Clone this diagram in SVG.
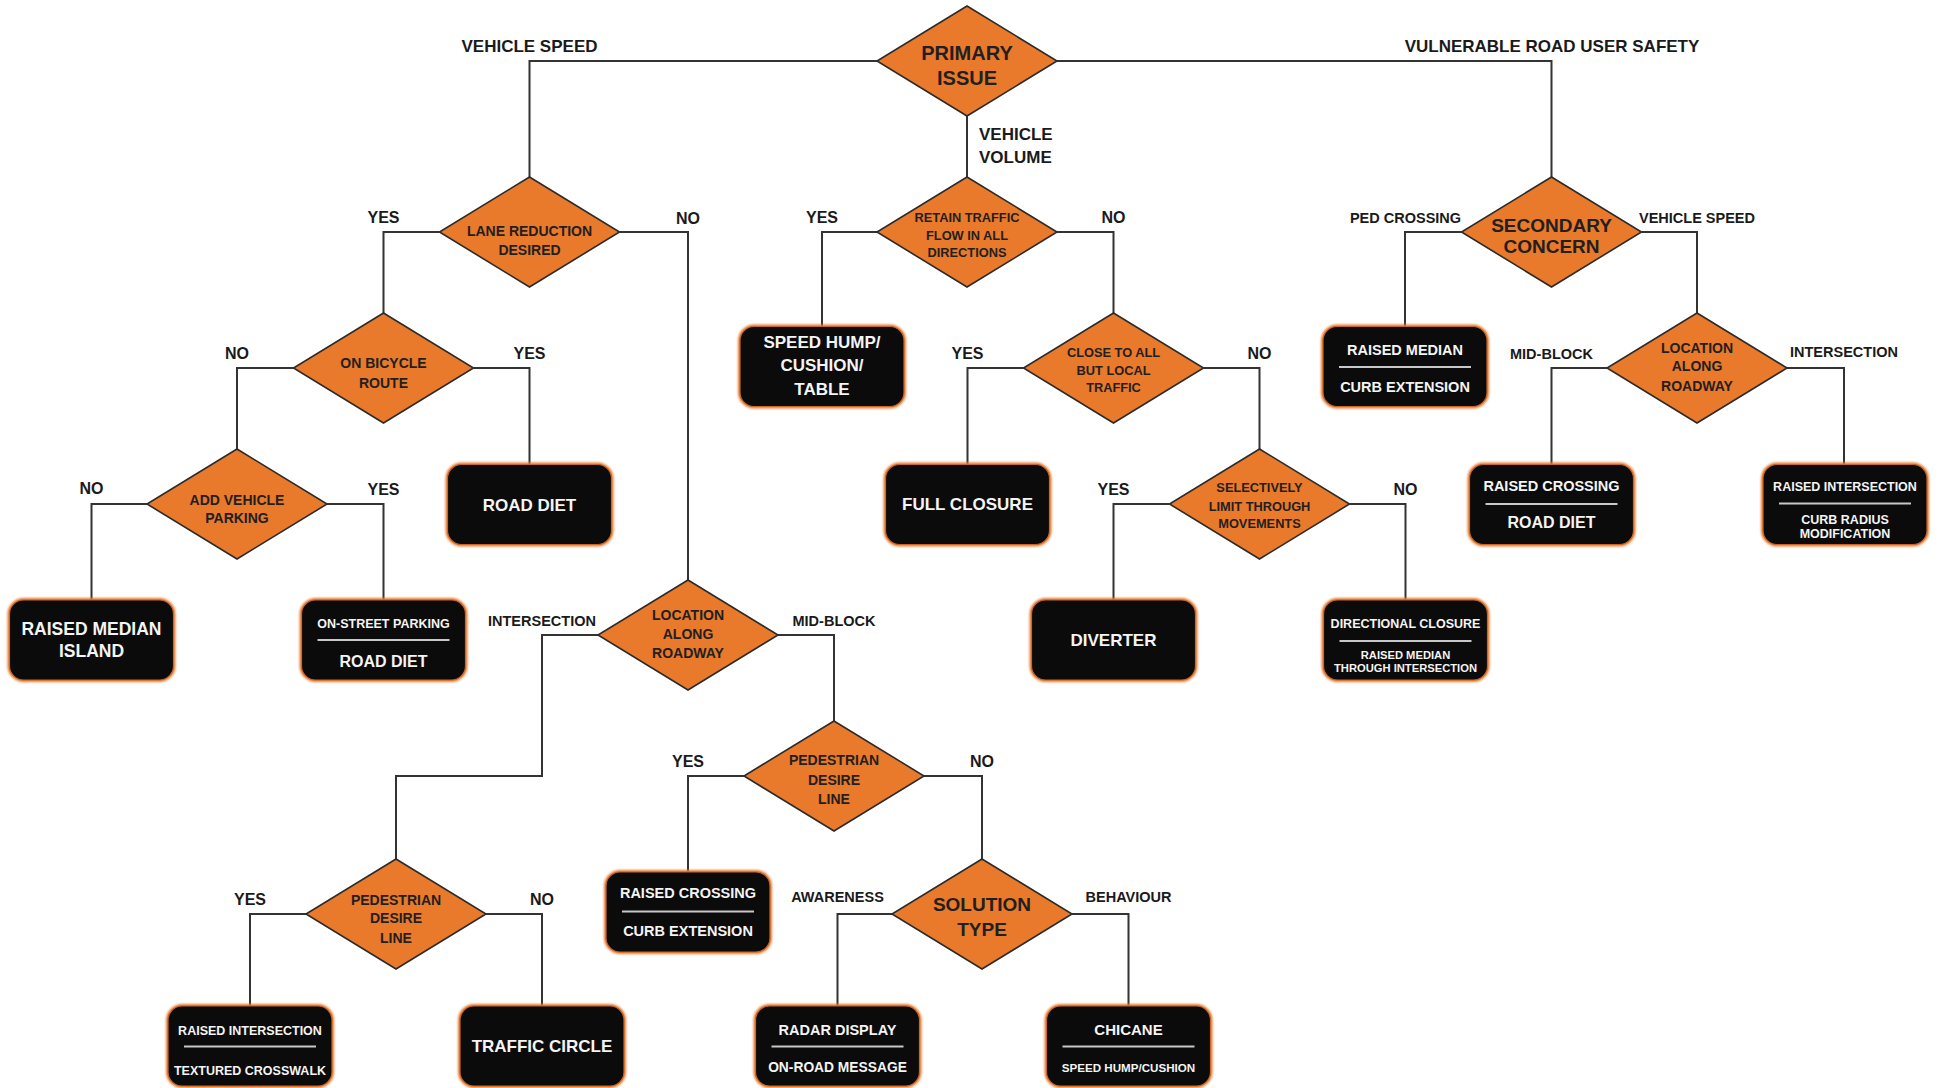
<svg xmlns="http://www.w3.org/2000/svg" xmlns:xlink="http://www.w3.org/1999/xlink" width="1940" height="1088" viewBox="0 0 1940 1088">
  <defs>
    <style>
      text { font-family: "Liberation Sans", Arial, sans-serif; font-weight: bold; text-anchor: middle; }
      .dia { fill: #E9792B; stroke: #2b2b2b; stroke-width: 1.6; }
      .glow { fill: none; stroke: #E9792B; stroke-width: 4; filter: url(#soft); }
      .box { fill: #0b0b0b; stroke: #C9672A; stroke-width: 1.2; }
      .sep { stroke: #c8c8c8; stroke-width: 2; }
      .conn path { fill: none; stroke: #333; stroke-width: 2; }
      .dt { fill: #231f20; }
      .bt { fill: #f4f4f4; }
      .lbl { fill: #1a1a1a; }
      .big { font-size: 19px; }
      .dm { font-size: 14px; }
      .ds { font-size: 12.8px; }
      .b17 { font-size: 17px; }
      .b14 { font-size: 14.5px; }
      .b12 { font-size: 12.5px; }
      .b11 { font-size: 11.2px; }
      .yn { font-size: 16px; }
      .el { font-size: 14.5px; }
      .top { font-size: 17px; }
    </style>
    <filter id="soft" x="-10%" y="-10%" width="120%" height="120%">
      <feGaussianBlur stdDeviation="1.2"/>
    </filter>
    <polygon id="diamond" points="0,-55 90,0 0,55 -90,0"/>
    <rect id="card" x="-82" y="-40" width="164" height="80" rx="14" ry="14"/>
  </defs>

  <rect width="1940" height="1088" fill="#ffffff"/>

  <!-- connectors -->
  <g id="connectors" class="conn">
    <path d="M878,61 H529.5 V177"/>
    <path d="M1057,61 H1551.5 V177"/>
    <path d="M967,116 V177"/>
    <path d="M439.5,232 H383.5 V313"/>
    <path d="M619.5,232 H688 V580"/>
    <path d="M293.5,368 H237 V449"/>
    <path d="M473.5,368 H529.5 V464.5"/>
    <path d="M147,504 H91.5 V600"/>
    <path d="M327,504 H383.5 V600"/>
    <path d="M877,232 H822 V326.5"/>
    <path d="M1057,232 H1113.5 V313"/>
    <path d="M1023.5,368 H967.5 V464.5"/>
    <path d="M1203.5,368 H1259.5 V449"/>
    <path d="M1169.5,504 H1113.5 V600"/>
    <path d="M1349.5,504 H1405.5 V600"/>
    <path d="M1461.5,232 H1405 V326.5"/>
    <path d="M1641.5,232 H1697 V313"/>
    <path d="M1607,368 H1551.5 V464.5"/>
    <path d="M1787,368 H1844 V464.5"/>
    <path d="M598,635 H542 V776 H396 V859"/>
    <path d="M778,635 H834 V721"/>
    <path d="M744,776 H688 V872"/>
    <path d="M924,776 H982 V859"/>
    <path d="M306,914 H250 V1006"/>
    <path d="M486,914 H542 V1006"/>
    <path d="M892,914 H837.5 V1006"/>
    <path d="M1072,914 H1128.5 V1006"/>
  </g>

  <!-- branch labels -->
  <g id="branch-labels" class="lbl">
    <text class="top" x="529.5" y="52">VEHICLE SPEED</text>
    <text class="top" x="1552" y="52">VULNERABLE ROAD USER SAFETY</text>
    <text class="top" x="979" y="140" style="text-anchor:start">VEHICLE</text>
    <text class="top" x="979" y="163" style="text-anchor:start">VOLUME</text>

    <text class="yn" x="383.5" y="223">YES</text>
    <text class="yn" x="688" y="224">NO</text>
    <text class="yn" x="237" y="359">NO</text>
    <text class="yn" x="529.5" y="359">YES</text>
    <text class="yn" x="91.5" y="494">NO</text>
    <text class="yn" x="383.5" y="495">YES</text>
    <text class="yn" x="822" y="223">YES</text>
    <text class="yn" x="1113.5" y="223">NO</text>
    <text class="yn" x="967.5" y="359">YES</text>
    <text class="yn" x="1259.5" y="359">NO</text>
    <text class="yn" x="1113.5" y="495">YES</text>
    <text class="yn" x="1405.5" y="495">NO</text>
    <text class="yn" x="688" y="767">YES</text>
    <text class="yn" x="982" y="767">NO</text>
    <text class="yn" x="250" y="905">YES</text>
    <text class="yn" x="542" y="905">NO</text>

    <text class="el" x="1405.5" y="223">PED CROSSING</text>
    <text class="el" x="1697" y="223">VEHICLE SPEED</text>
    <text class="el" x="1551.5" y="359">MID-BLOCK</text>
    <text class="el" x="1844" y="357">INTERSECTION</text>
    <text class="el" x="542" y="626">INTERSECTION</text>
    <text class="el" x="834" y="626">MID-BLOCK</text>
    <text class="el" x="837.5" y="902">AWARENESS</text>
    <text class="el" x="1128.5" y="902">BEHAVIOUR</text>
  </g>

  <!-- decision nodes -->
  <g id="primary-issue">
    <use href="#diamond" x="967" y="61" class="dia"/>
    <text class="dt big" x="967" y="60" style="font-size:20px">PRIMARY</text>
    <text class="dt big" x="967" y="85" style="font-size:20px">ISSUE</text>
  </g>
  <g id="lane-reduction">
    <use href="#diamond" x="529.5" y="232" class="dia"/>
    <text class="dt dm" x="529.5" y="236">LANE REDUCTION</text>
    <text class="dt dm" x="529.5" y="255">DESIRED</text>
  </g>
  <g id="retain-traffic">
    <use href="#diamond" x="967" y="232" class="dia"/>
    <text class="dt ds" x="967" y="222">RETAIN TRAFFIC</text>
    <text class="dt ds" x="967" y="239.5">FLOW IN ALL</text>
    <text class="dt ds" x="967" y="257">DIRECTIONS</text>
  </g>
  <g id="secondary-concern">
    <use href="#diamond" x="1551.5" y="232" class="dia"/>
    <text class="dt big" x="1551.5" y="232">SECONDARY</text>
    <text class="dt big" x="1551.5" y="253">CONCERN</text>
  </g>
  <g id="bicycle-route">
    <use href="#diamond" x="383.5" y="368" class="dia"/>
    <text class="dt dm" x="383.5" y="368">ON BICYCLE</text>
    <text class="dt dm" x="383.5" y="387.5">ROUTE</text>
  </g>
  <g id="close-to-all">
    <use href="#diamond" x="1113.5" y="368" class="dia"/>
    <text class="dt ds" x="1113.5" y="357">CLOSE TO ALL</text>
    <text class="dt ds" x="1113.5" y="374.5">BUT LOCAL</text>
    <text class="dt ds" x="1113.5" y="392">TRAFFIC</text>
  </g>
  <g id="location-right">
    <use href="#diamond" x="1697" y="368" class="dia"/>
    <text class="dt dm" x="1697" y="352.5">LOCATION</text>
    <text class="dt dm" x="1697" y="371">ALONG</text>
    <text class="dt dm" x="1697" y="391">ROADWAY</text>
  </g>
  <g id="add-parking">
    <use href="#diamond" x="237" y="504" class="dia"/>
    <text class="dt dm" x="237" y="505">ADD VEHICLE</text>
    <text class="dt dm" x="237" y="523">PARKING</text>
  </g>
  <g id="selectively-limit">
    <use href="#diamond" x="1259.5" y="504" class="dia"/>
    <text class="dt ds" x="1259.5" y="492">SELECTIVELY</text>
    <text class="dt ds" x="1259.5" y="510.5">LIMIT THROUGH</text>
    <text class="dt ds" x="1259.5" y="528">MOVEMENTS</text>
  </g>
  <g id="location-center">
    <use href="#diamond" x="688" y="635" class="dia"/>
    <text class="dt dm" x="688" y="620">LOCATION</text>
    <text class="dt dm" x="688" y="638.5">ALONG</text>
    <text class="dt dm" x="688" y="658">ROADWAY</text>
  </g>
  <g id="pedestrian-mid">
    <use href="#diamond" x="834" y="776" class="dia"/>
    <text class="dt dm" x="834" y="765">PEDESTRIAN</text>
    <text class="dt dm" x="834" y="784.5">DESIRE</text>
    <text class="dt dm" x="834" y="804">LINE</text>
  </g>
  <g id="pedestrian-left">
    <use href="#diamond" x="396" y="914" class="dia"/>
    <text class="dt dm" x="396" y="904.5">PEDESTRIAN</text>
    <text class="dt dm" x="396" y="923">DESIRE</text>
    <text class="dt dm" x="396" y="943">LINE</text>
  </g>
  <g id="solution-type">
    <use href="#diamond" x="982" y="914" class="dia"/>
    <text class="dt big" x="982" y="911">SOLUTION</text>
    <text class="dt big" x="982" y="936">TYPE</text>
  </g>

  <!-- outcome nodes -->
  <g id="speed-hump-table">
    <use href="#card" x="822" y="366.5" class="glow"/>
    <use href="#card" x="822" y="366.5" class="box"/>
    <text class="bt b17" x="822" y="347.5">SPEED HUMP/</text>
    <text class="bt b17" x="822" y="371">CUSHION/</text>
    <text class="bt b17" x="822" y="394.5">TABLE</text>
  </g>
  <g id="raised-median-curb">
    <use href="#card" x="1405" y="366.5" class="glow"/>
    <use href="#card" x="1405" y="366.5" class="box"/>
    <text class="bt b14" x="1405" y="355">RAISED MEDIAN</text>
    <line class="sep" x1="1339" y1="367" x2="1471" y2="367"/>
    <text class="bt b14" x="1405" y="391.5">CURB EXTENSION</text>
  </g>
  <g id="road-diet">
    <use href="#card" x="529.5" y="504.5" class="glow"/>
    <use href="#card" x="529.5" y="504.5" class="box"/>
    <text class="bt b17" x="529.5" y="510.5">ROAD DIET</text>
  </g>
  <g id="full-closure">
    <use href="#card" x="967.5" y="504.5" class="glow"/>
    <use href="#card" x="967.5" y="504.5" class="box"/>
    <text class="bt b17" x="967.5" y="510">FULL CLOSURE</text>
  </g>
  <g id="raised-crossing-road-diet">
    <use href="#card" x="1551.5" y="504.5" class="glow"/>
    <use href="#card" x="1551.5" y="504.5" class="box"/>
    <text class="bt b14" x="1551.5" y="490.5">RAISED CROSSING</text>
    <line class="sep" x1="1485.5" y1="504" x2="1617.5" y2="504"/>
    <text class="bt b14" x="1551.5" y="528" style="font-size:16px">ROAD DIET</text>
  </g>
  <g id="raised-intersection-curb-radius">
    <use href="#card" x="1845" y="504.5" class="glow"/>
    <use href="#card" x="1845" y="504.5" class="box"/>
    <text class="bt b12" x="1845" y="490.5">RAISED INTERSECTION</text>
    <line class="sep" x1="1779" y1="503.5" x2="1911" y2="503.5"/>
    <text class="bt b12" x="1845" y="524">CURB RADIUS</text>
    <text class="bt b12" x="1845" y="537.5">MODIFICATION</text>
  </g>
  <g id="raised-median-island">
    <use href="#card" x="91.5" y="640" class="glow"/>
    <use href="#card" x="91.5" y="640" class="box"/>
    <text class="bt b17" x="91.5" y="635" style="font-size:17.5px">RAISED MEDIAN</text>
    <text class="bt b17" x="91.5" y="657" style="font-size:17.5px">ISLAND</text>
  </g>
  <g id="on-street-parking">
    <use href="#card" x="383.5" y="640" class="glow"/>
    <use href="#card" x="383.5" y="640" class="box"/>
    <text class="bt b12" x="383.5" y="628">ON-STREET PARKING</text>
    <line class="sep" x1="317.5" y1="640" x2="449.5" y2="640"/>
    <text class="bt b14" x="383.5" y="667" style="font-size:16px">ROAD DIET</text>
  </g>
  <g id="diverter">
    <use href="#card" x="1113.5" y="640" class="glow"/>
    <use href="#card" x="1113.5" y="640" class="box"/>
    <text class="bt b17" x="1113.5" y="646">DIVERTER</text>
  </g>
  <g id="directional-closure">
    <use href="#card" x="1405.5" y="640" class="glow"/>
    <use href="#card" x="1405.5" y="640" class="box"/>
    <text class="bt b12" x="1405.5" y="627.5">DIRECTIONAL CLOSURE</text>
    <line class="sep" x1="1339.5" y1="641" x2="1471.5" y2="641"/>
    <text class="bt b11" x="1405.5" y="658.5">RAISED MEDIAN</text>
    <text class="bt b11" x="1405.5" y="672">THROUGH INTERSECTION</text>
  </g>
  <g id="raised-crossing-curb-ext">
    <use href="#card" x="688" y="912" class="glow"/>
    <use href="#card" x="688" y="912" class="box"/>
    <text class="bt b14" x="688" y="898">RAISED CROSSING</text>
    <line class="sep" x1="622" y1="911.5" x2="754" y2="911.5"/>
    <text class="bt b14" x="688" y="936">CURB EXTENSION</text>
  </g>
  <g id="raised-intersection-crosswalk">
    <use href="#card" x="250" y="1046" class="glow"/>
    <use href="#card" x="250" y="1046" class="box"/>
    <text class="bt b12" x="250" y="1035">RAISED INTERSECTION</text>
    <line class="sep" x1="184" y1="1046.5" x2="316" y2="1046.5"/>
    <text class="bt b12" x="250" y="1075">TEXTURED CROSSWALK</text>
  </g>
  <g id="traffic-circle">
    <use href="#card" x="542" y="1046" class="glow"/>
    <use href="#card" x="542" y="1046" class="box"/>
    <text class="bt b17" x="542" y="1052">TRAFFIC CIRCLE</text>
  </g>
  <g id="radar-display">
    <use href="#card" x="837.5" y="1046" class="glow"/>
    <use href="#card" x="837.5" y="1046" class="box"/>
    <text class="bt b14" x="837.5" y="1035">RADAR DISPLAY</text>
    <line class="sep" x1="771.5" y1="1046.5" x2="903.5" y2="1046.5"/>
    <text class="bt b14" x="837.5" y="1071.5" style="font-size:13.8px">ON-ROAD MESSAGE</text>
  </g>
  <g id="chicane">
    <use href="#card" x="1128.5" y="1046" class="glow"/>
    <use href="#card" x="1128.5" y="1046" class="box"/>
    <text class="bt b14" x="1128.5" y="1035" style="font-size:15px">CHICANE</text>
    <line class="sep" x1="1062.5" y1="1046.5" x2="1194.5" y2="1046.5"/>
    <text class="bt b11" x="1128.5" y="1071.5" style="font-size:11.6px">SPEED HUMP/CUSHION</text>
  </g>
</svg>
